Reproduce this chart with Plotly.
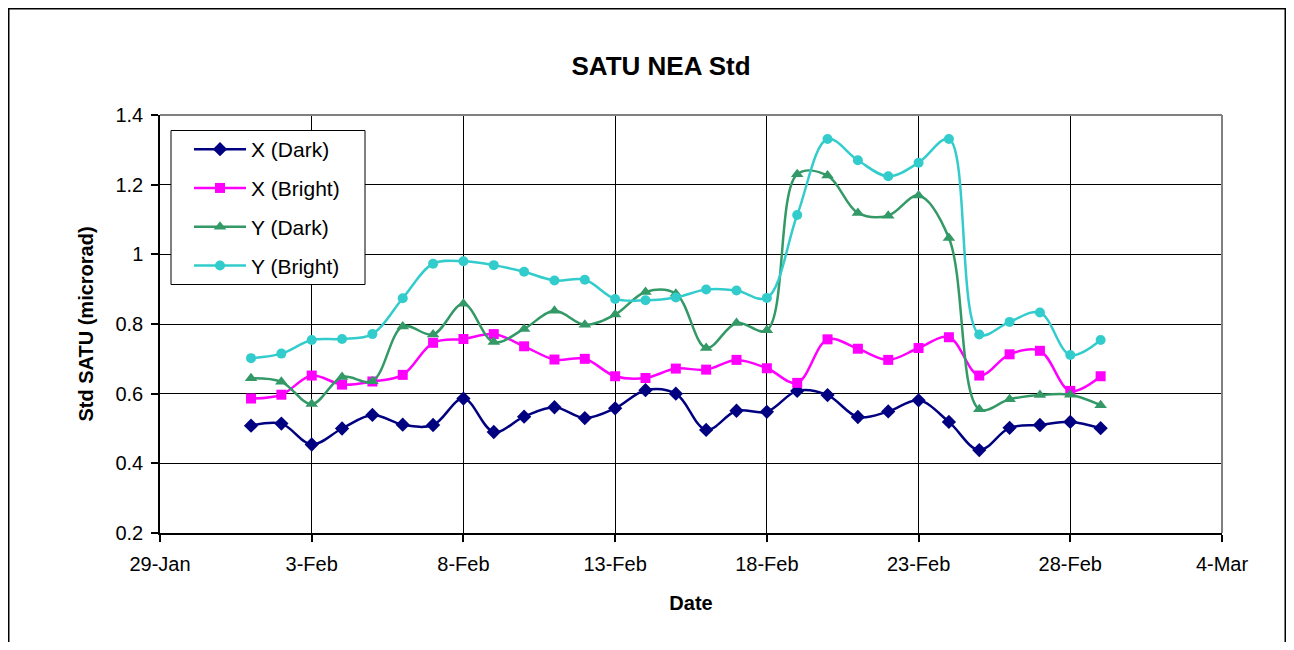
import plotly.graph_objects as go

dates = ["2004-02-01", "2004-02-02", "2004-02-03", "2004-02-04", "2004-02-05",
         "2004-02-06", "2004-02-07", "2004-02-08", "2004-02-09", "2004-02-10",
         "2004-02-11", "2004-02-12", "2004-02-13", "2004-02-14", "2004-02-15",
         "2004-02-16", "2004-02-17", "2004-02-18", "2004-02-19", "2004-02-20",
         "2004-02-21", "2004-02-22", "2004-02-23", "2004-02-24", "2004-02-25",
         "2004-02-26", "2004-02-27", "2004-02-28", "2004-02-29"]

x_dark = [0.508, 0.514, 0.454, 0.500, 0.539, 0.511, 0.510, 0.586, 0.490, 0.534,
          0.561, 0.530, 0.558, 0.610, 0.600, 0.496, 0.551, 0.548, 0.608, 0.596,
          0.533, 0.549, 0.581, 0.519, 0.438, 0.502, 0.510, 0.519, 0.501]
x_bright = [0.586, 0.597, 0.652, 0.626, 0.635, 0.654, 0.746, 0.757, 0.771, 0.736,
            0.698, 0.700, 0.650, 0.645, 0.672, 0.669, 0.697, 0.673, 0.631, 0.756,
            0.729, 0.697, 0.731, 0.762, 0.652, 0.713, 0.723, 0.608, 0.650]
y_dark = [0.644, 0.634, 0.570, 0.648, 0.636, 0.793, 0.770, 0.858, 0.748, 0.786,
          0.838, 0.798, 0.827, 0.892, 0.887, 0.731, 0.803, 0.782, 1.230, 1.226,
          1.119, 1.111, 1.169, 1.047, 0.555, 0.584, 0.596, 0.597, 0.567]
y_bright = [0.702, 0.715, 0.754, 0.757, 0.771, 0.874, 0.973, 0.980, 0.969, 0.950,
            0.925, 0.927, 0.872, 0.868, 0.876, 0.899, 0.896, 0.875, 1.113, 1.331,
            1.270, 1.224, 1.263, 1.331, 0.770, 0.806, 0.833, 0.711, 0.754]

x_tickvals = ["2004-01-29", "2004-02-03", "2004-02-08", "2004-02-13",
              "2004-02-18", "2004-02-23", "2004-02-28", "2004-03-04"]
x_ticktext = ["29-Jan", "3-Feb", "8-Feb", "13-Feb", "18-Feb", "23-Feb", "28-Feb", "4-Mar"]
y_tickvals = [0.2, 0.4, 0.6, 0.8, 1.0, 1.2, 1.4]
y_ticktext = ["0.2", "0.4", "0.6", "0.8", "1", "1.2", "1.4"]

series = [
    ("X (Dark)", x_dark, "#000080", "diamond", 11),
    ("X (Bright)", x_bright, "#FF00FF", "square", 10),
    ("Y (Dark)", y_dark, "#339966", "triangle-up", 11),
    ("Y (Bright)", y_bright, "#33CCCC", "circle", 10),
]

FONT = "Arial, 'Liberation Sans', sans-serif"

# The page body has an 8px margin, so the figure is drawn 8px smaller and
# every target screen position is shifted by that offset.
OFF = 8
W, H = 1294 - 2 * OFF, 650 - 2 * OFF
# plot area in screen pixels (reference)
L, R, T, B = 160, 1222, 115, 533

def px(xp):
    return (xp - L) / (R - L)

def py(yp):
    return (B - yp) / (B - T)

fig = go.Figure()
for i, (name, vals, color, sym, size) in enumerate(series):
    fig.add_trace(go.Scatter(
        x=dates, y=vals, name=name, mode="lines+markers",
        line=dict(color=color, width=2.5, shape="spline", smoothing=1.0),
        marker=dict(symbol=sym, size=size, color=color),
        legendgroup=str(i),
    ))

fig.update_layout(
    width=W, height=H,
    margin=dict(l=L - OFF, r=W - (R - OFF), t=T - OFF, b=H - (B - OFF), pad=0),
    paper_bgcolor="white", plot_bgcolor="white",
    font=dict(family=FONT, size=20, color="black"),
    title=dict(text="SATU NEA Std", x=(661 - OFF) / W, xref="container", xanchor="center",
               y=1 - (66 - OFF) / H, yref="container", yanchor="middle",
               font=dict(family=FONT, size=26, weight="bold", color="black")),
    xaxis=dict(type="date", range=["2004-01-29", "2004-03-04"],
               tickvals=x_tickvals, ticktext=x_ticktext,
               showgrid=True, gridcolor="black", gridwidth=1,
               showline=True, linecolor="black", linewidth=1.5,
               ticks="outside", ticklen=7, tickcolor="black", tickwidth=1.5,
               ticklabelstandoff=5,
               tickfont=dict(size=20), zeroline=False,
               title=dict(text="Date", standoff=22,
                          font=dict(family=FONT, size=20, weight="bold"))),
    yaxis=dict(range=[0.2, 1.4], tickvals=y_tickvals, ticktext=y_ticktext,
               showgrid=True, gridcolor="black", gridwidth=1,
               showline=True, linecolor="black", linewidth=1.5,
               ticks="outside", ticklen=7, tickcolor="black", tickwidth=1.5,
               ticklabelstandoff=4,
               tickfont=dict(size=20), zeroline=False,
               title=dict(text="Std SATU (microrad)", standoff=16,
                          font=dict(family=FONT, size=20, weight="bold"))),
    legend=dict(x=px(189), y=py(129), xanchor="left", yanchor="top",
                bgcolor="rgba(0,0,0,0)", borderwidth=0,
                font=dict(family=FONT, size=21), tracegroupgap=8.5,
                traceorder="grouped", itemwidth=52),
    shapes=[
        # plot-area top & right border (gray)
        dict(type="line", xref="paper", yref="paper", x0=0, x1=1, y0=1, y1=1,
             line=dict(color="#808080", width=2), layer="above"),
        dict(type="line", xref="paper", yref="paper", x0=1, x1=1, y0=0, y1=1,
             line=dict(color="#808080", width=2), layer="above"),
        # legend box
        dict(type="rect", xref="paper", yref="paper",
             x0=px(171), x1=px(365), y0=py(284.5), y1=py(130.5),
             line=dict(color="black", width=1), fillcolor="white", layer="above"),
        # outer chart border
        dict(type="rect", xref="paper", yref="paper",
             x0=px(OFF + 0.75), x1=px(OFF + W - 0.75), y0=py(700), y1=py(OFF + 0.75),
             line=dict(color="black", width=1.5), fillcolor="rgba(0,0,0,0)", layer="above"),
    ],
)

fig.write_html("out.html")
